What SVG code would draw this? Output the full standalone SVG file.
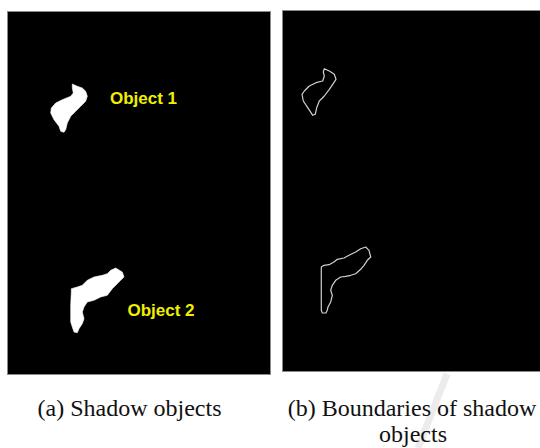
<svg xmlns="http://www.w3.org/2000/svg" width="540" height="448" viewBox="0 0 540 448">
  <style>
    .panel { fill: #000; stroke: #8a8a8a; stroke-width: 1; }
    .blob { fill: #fff; stroke: #fff; stroke-width: 0.6; stroke-linejoin: round; }
    .edge { fill: none; stroke: #d0d0d0; stroke-width: 1.2; stroke-linejoin: round; }
    .tag { font-family: "Liberation Sans", Arial, sans-serif; font-weight: bold; font-size: 17px; fill: #f0f000; }
    .cap { font-family: "Liberation Serif", "Times New Roman", serif; font-size: 24px; fill: #111; text-anchor: middle; }
  </style>

  <rect width="540" height="448" fill="#fff"/>

  <!-- faint diagonal stroke under the right caption -->
  <line x1="447" y1="374" x2="418" y2="448" stroke="#ececec" stroke-width="7"/>

  <!-- (a) binary shadow mask -->
  <g id="panel-a">
    <rect class="panel" x="7.5" y="11.5" width="263" height="363"/>
    <g id="object-1">
      <path class="blob" d="M72.3,84 L77.3,86.3 L82.3,88 L85.7,91.3 L87.3,96.3 L85.7,101.3 L80.7,106.3 L75.7,111.3 L70.7,116.3 L67.3,123 L65.7,129.7 L64,132.3 L60.7,131.3 L59,126.3 L54,119.7 L50.7,113 L51.3,108 L55.7,103 L62.3,99.7 L70.7,96.3 L73.3,93 L72.3,88 Z"/>
      <text class="tag" x="110" y="104">Object 1</text>
    </g>
    <g id="object-2">
      <path class="blob" d="M115.7,268 L122.3,272 L124,277 L120.7,280.3 L117.3,283.7 L112.3,288.7 L107.3,295.3 L100.7,297 L94,300.3 L87.3,302 L84,307 L82.3,312 L84,318.7 L82.3,323.7 L79,328.7 L77.3,332.7 L74,332 L72.3,327 L70.7,322 L70.7,305.3 L71.3,292 L71.3,288.7 L77.3,287 L82.3,285.3 L87.3,280.3 L94,277 L102.3,275.3 L107.3,273.7 L110.7,270.3 Z"/>
      <text class="tag" x="127.5" y="316">Object 2</text>
    </g>
  </g>

  <!-- (b) traced outlines -->
  <g id="panel-b">
    <rect class="panel" x="282.5" y="10.5" width="260" height="361"/>
    <g id="boundary-1">
      <path class="edge" d="M324.3,68.7 L329.3,71 L334.3,74.3 L336,79.3 L332.7,84.3 L329.3,89.3 L324.3,96 L319.3,101 L316.7,107.7 L315.3,114.3 L312.7,115.3 L311,112.7 L307.7,107.7 L303.3,101 L302,94.3 L304.3,91 L309.3,86 L316,82.7 L322.7,81 L324.3,76 L323.3,72 Z"/>
    </g>
    <g id="boundary-2">
      <path class="edge" d="M365.7,247 L369,250.3 L370.7,257 L367.3,260.3 L364,265.3 L360.7,269.3 L355.7,273.7 L350.7,275.3 L345.7,276.3 L340.7,277 L335.7,280.3 L332.3,285.3 L330.7,290.3 L332.3,295.3 L330.7,302 L328,307 L327.3,310 L326,313 L322.3,313 L321.3,310.3 L321.3,267 L324,265.3 L329,264.7 L334,262 L337.3,259.3 L344,258 L349,255.3 L355.7,252 L360.7,248.7 Z"/>
    </g>
  </g>

  <!-- captions -->
  <g id="captions">
    <text class="cap" x="129.5" y="416">(a) Shadow objects</text>
    <text class="cap" x="412" y="416">(b) Boundaries of shadow</text>
    <text class="cap" x="413" y="442">objects</text>
  </g>
</svg>
